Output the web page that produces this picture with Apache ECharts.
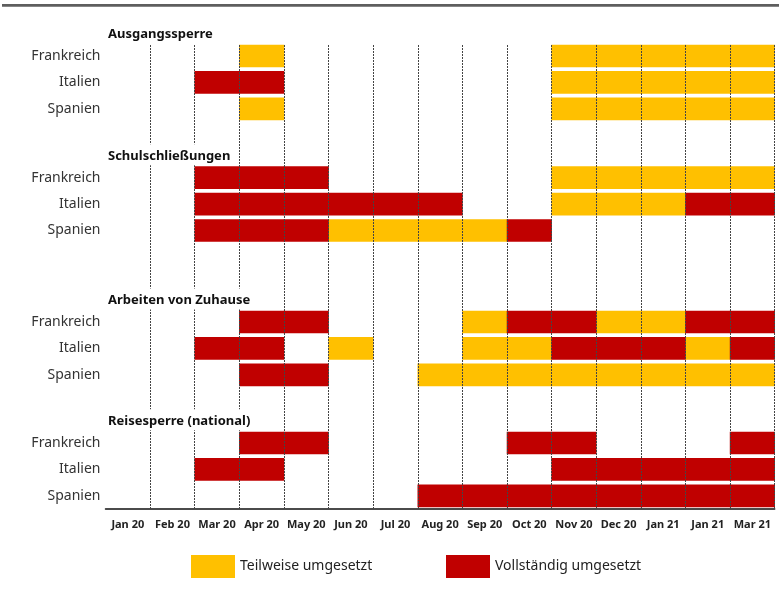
<!DOCTYPE html>
<html>
<head>
<meta charset="utf-8">
<script src="https://cdn.jsdelivr.net/npm/echarts@6/dist/echarts.min.js"></script>
<style>html,body{margin:0;padding:0;background:#fff}#c{width:779px;height:602px}</style>
</head>
<body>
<div id="c"></div>
<script>
// ---- data ----
const months = ['Jan 20','Feb 20','Mar 20','Apr 20','May 20','Jun 20','Jul 20','Aug 20','Sep 20','Oct 20','Nov 20','Dec 20','Jan 21','Jan 21','Mar 21'];
const countries = ['Frankreich','Italien','Spanien'];
const groups = ['Ausgangssperre','Schulschließungen','Arbeiten von Zuhause','Reisesperre (national)'];
const statusNames = ['Teilweise umgesetzt','Vollständig umgesetzt'];
// 0 = none, 1 = teilweise, 2 = vollständig
const ausgangFrankreich = [0,0,0,1,0,0,0,0,0,0,1,1,1,1,1];
const ausgangItalien    = [0,0,2,2,0,0,0,0,0,0,1,1,1,1,1];
const ausgangSpanien    = [0,0,0,1,0,0,0,0,0,0,1,1,1,1,1];
const schuleFrankreich  = [0,0,2,2,2,0,0,0,0,0,1,1,1,1,1];
const schuleItalien     = [0,0,2,2,2,2,2,2,0,0,1,1,1,2,2];
const schuleSpanien     = [0,0,2,2,2,1,1,1,1,2,0,0,0,0,0];
const homeFrankreich    = [0,0,0,2,2,0,0,0,1,2,2,1,1,2,2];
const homeItalien       = [0,0,2,2,0,1,0,0,1,1,2,2,2,1,2];
const homeSpanien       = [0,0,0,2,2,0,0,1,1,1,1,1,1,1,1];
const reiseFrankreich   = [0,0,0,2,2,0,0,0,0,2,2,0,0,0,2];
const reiseItalien      = [0,0,2,2,0,0,0,0,0,0,2,2,2,2,2];
const reiseSpanien      = [0,0,0,0,0,0,0,2,2,2,2,2,2,2,2];
const groupData = [
  [ausgangFrankreich, ausgangItalien, ausgangSpanien],
  [schuleFrankreich, schuleItalien, schuleSpanien],
  [homeFrankreich, homeItalien, homeSpanien],
  [reiseFrankreich, reiseItalien, reiseSpanien]
];

// ---- layout ----
const colors = ['#FFC000','#C00000'];
const gridLeft = 105.5, gridRight = 4.3, rowH = 26.4;
const gridTops = [42.8, 164.5, 308.8, 429.8];
const titleTops = [22.5, 144.2, 288.5, 409.2];
const FONT = 'Noto Sans';

const grids = [], xAxes = [], yAxes = [], series = [], titles = [];
gridTops.forEach((t, g) => {
  grids.push({left: gridLeft, right: gridRight, top: t, height: rowH * 3});
  xAxes.push({
    type: 'category', gridIndex: g, data: months,
    axisLine: {show: g === 3, lineStyle: {color: '#111', width: 1.5}},
    axisTick: {show: false},
    axisLabel: {show: g === 3, margin: 10, fontFamily: FONT, fontSize: 11, fontWeight: 'bold', color: '#222', interval: 0},
    splitLine: {show: false}
  });
  yAxes.push({
    type: 'category', gridIndex: g, data: countries, inverse: true,
    axisLine: {show: false}, axisTick: {show: false},
    axisLabel: {margin: 5, fontFamily: FONT, fontSize: 14, color: '#333', padding: [6, 0, 0, 0]},
    splitLine: {show: false}
  });
  titles.push({
    text: groups[g], left: gridLeft - 0.5, top: titleTops[g],
    padding: [5, 3, 2, 3], backgroundColor: '#fff', z: 10,
    textStyle: {fontFamily: FONT, fontSize: 13, fontWeight: 'bold', color: '#111', lineHeight: 14}
  });
  [1, 2].forEach(s => {
    const d = [];
    groupData[g].forEach((row, r) => row.forEach((v, m) => { if (v === s) d.push([m, r]); }));
    series.push({
      type: 'custom', name: statusNames[s - 1], xAxisIndex: g, yAxisIndex: g,
      itemStyle: {color: colors[s - 1]}, z: 2,
      renderItem: function (params, api) {
        const c = api.coord([api.value(0), api.value(1)]);
        const w = api.size([1, 0])[0];
        const h = api.size([0, 1])[1] * 0.86;
        return {type: 'rect', shape: {x: c[0] - w / 2 - 0.3, y: c[1] - h / 2, width: w + 0.6, height: h},
                style: {fill: colors[s - 1]}};
      },
      data: d
    });
  });
});
// overlay grid for dotted vertical lines (column boundaries 1..15)
const colW = (779 - gridLeft - gridRight) / months.length;
grids.push({left: gridLeft + colW, right: gridRight, top: 45, bottom: 602 - 509});
xAxes.push({
  type: 'value', gridIndex: 4, min: 1, max: months.length, interval: 1, z: 5,
  axisLine: {show: false}, axisTick: {show: false}, axisLabel: {show: false},
  splitLine: {show: true, lineStyle: {color: '#444', width: 1, type: [2, 1]}}
});
yAxes.push({type: 'value', gridIndex: 4, show: false, splitLine: {show: false}});

const chart = echarts.init(document.getElementById('c'), null, {renderer: 'canvas'});
chart.setOption({
  animation: false,
  backgroundColor: '#fff',
  title: titles,
  grid: grids, xAxis: xAxes, yAxis: yAxes, series: series,
  legend: [
    {data: [statusNames[0]], left: 191, top: 555, padding: 0, itemWidth: 44, itemHeight: 23, icon: 'rect',
     textStyle: {fontFamily: FONT, fontSize: 14, color: '#222'}, selectedMode: false},
    {data: [statusNames[1]], left: 446, top: 555, padding: 0, itemWidth: 44, itemHeight: 23, icon: 'rect',
     textStyle: {fontFamily: FONT, fontSize: 14, color: '#222'}, selectedMode: false}
  ],
  graphic: [{type: 'rect', left: 2, top: 4, shape: {width: 777, height: 2.7}, style: {fill: '#5e5e5e'}, silent: true}]
});
</script>
</body>
</html>
